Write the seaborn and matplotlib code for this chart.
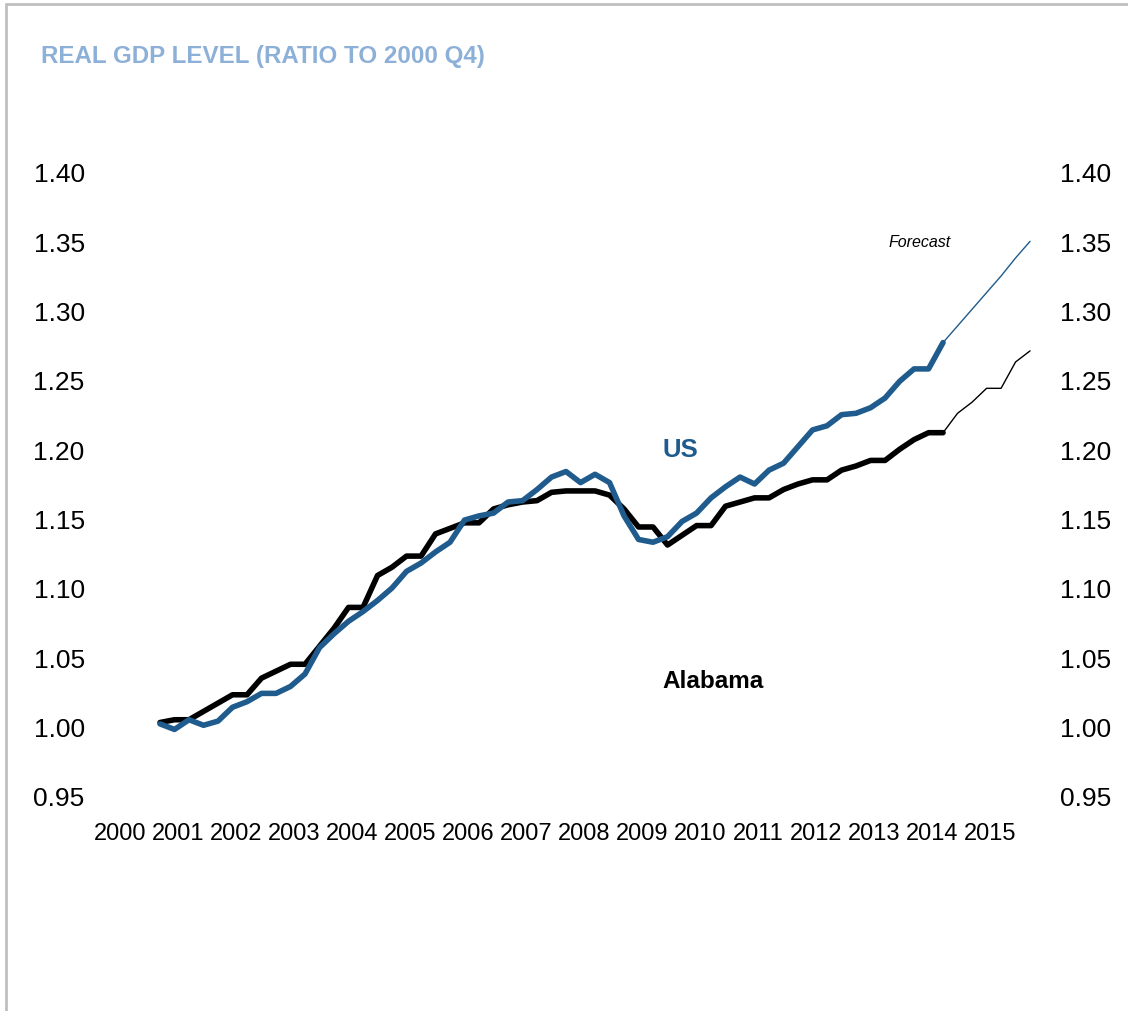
import numpy as np
import pandas as pd
import seaborn as sns
import matplotlib.pyplot as plt
from matplotlib.lines import Line2D

# quarterly real GDP, ratio to 2000 Q4 (actuals 2000Q4 - 2014Q2)
us_actual = [1.002, 0.998, 1.005, 1.001, 1.004, 1.014, 1.018, 1.024, 1.024, 1.029,
             1.038, 1.057, 1.067, 1.076, 1.083, 1.091, 1.100, 1.112, 1.118, 1.126,
             1.133, 1.149, 1.152, 1.154, 1.162, 1.163, 1.171, 1.180, 1.184, 1.176,
             1.182, 1.176, 1.152, 1.135, 1.133, 1.137, 1.148, 1.154, 1.165, 1.173,
             1.180, 1.175, 1.185, 1.190, 1.202, 1.214, 1.217, 1.225, 1.226, 1.230,
             1.237, 1.249, 1.258, 1.258, 1.277]
al_actual = [1.003, 1.005, 1.005, 1.011, 1.017, 1.023, 1.023, 1.035, 1.040, 1.045,
             1.045, 1.058, 1.071, 1.086, 1.086, 1.109, 1.115, 1.123, 1.123, 1.139,
             1.143, 1.147, 1.147, 1.157, 1.160, 1.162, 1.163, 1.169, 1.170, 1.170,
             1.170, 1.167, 1.157, 1.144, 1.144, 1.131, 1.138, 1.145, 1.145, 1.159,
             1.162, 1.165, 1.165, 1.171, 1.175, 1.178, 1.178, 1.185, 1.188, 1.192,
             1.192, 1.200, 1.207, 1.212, 1.212]
# forecast 2014Q3 - 2015Q4
us_forecast = [1.289, 1.301, 1.313, 1.325, 1.338, 1.350]
al_forecast = [1.226, 1.234, 1.244, 1.244, 1.263, 1.271]

years = list(range(2000, 2016))
yticks = [0.95, 1.00, 1.05, 1.10, 1.15, 1.20, 1.25, 1.30, 1.35, 1.40]

US_BLUE = '#1f5b8c'
TITLE_BLUE = '#8db0d9'
SANS = ['Liberation Sans', 'DejaVu Sans']

def qnum(periods):
    return periods.year + (periods.quarter - 1) / 4.0

act_q = pd.period_range('2000Q4', periods=len(us_actual), freq='Q')
fc_q = pd.period_range(act_q[-1], periods=len(us_forecast) + 1, freq='Q')

act = pd.DataFrame({'t': qnum(act_q), 'US': us_actual, 'Alabama': al_actual})
fc = pd.DataFrame({'t': qnum(fc_q),
                   'US': [us_actual[-1]] + us_forecast,
                   'Alabama': [al_actual[-1]] + al_forecast})

sns.set_style('white')
plt.rcParams['font.family'] = SANS

fig = plt.figure(figsize=(11.28, 10.12), dpi=100)
ax = fig.add_axes([100 / 1128, 1 - 797 / 1012, 945 / 1128, 624 / 1012])

sns.lineplot(data=act, x='t', y='Alabama', ax=ax, color='black', lw=4,
             solid_joinstyle='round')
sns.lineplot(data=act, x='t', y='US', ax=ax, color=US_BLUE, lw=4,
             solid_joinstyle='round')
sns.lineplot(data=fc, x='t', y='Alabama', ax=ax, color='black', lw=1.0)
sns.lineplot(data=fc, x='t', y='US', ax=ax, color=US_BLUE, lw=1.0)

ax.set_xlim(2000 - 1.138 / 4, 2000 + 64.03 / 4)
ax.set_ylim(0.95, 1.40)
ax.set_yticks(yticks)
ax.set_yticklabels([f'{v:.2f}' for v in yticks])
ax.set_xticks([y + 0.06 for y in years])
ax.set_xticklabels([str(y) for y in years])
ax.set_xlabel('')
ax.set_ylabel('')
ax.tick_params(axis='y', labelsize=19, labelright=True, left=False, right=False,
               pad=7.5, labelcolor='black')
ax.tick_params(axis='x', labelsize=17, bottom=False, pad=15, labelcolor='black')
sns.despine(ax=ax, left=True, bottom=True)
ax.grid(False)

ax.text(2013.85, 1.350, 'Forecast', fontsize=11.5, style='italic', ha='center',
        va='center', color='black')
ax.text(2009.72, 1.200, 'US', fontsize=18.5, fontweight='bold', color=US_BLUE,
        ha='center', va='center')
ax.text(2010.28, 1.033, 'Alabama', fontsize=17.5, fontweight='bold', color='black',
        ha='center', va='center')

fig.text(41 / 1128, 1 - 57 / 1012, 'REAL GDP LEVEL (RATIO TO 2000 Q4)', fontsize=17.4,
         fontweight='bold', color=TITLE_BLUE, ha='left', va='center')

# outer frame (left and top edges)
fig.add_artist(Line2D([6 / 1128, 6 / 1128], [0, 1 - 5 / 1012], transform=fig.transFigure,
                      color='#c0c0c0', lw=2))
fig.add_artist(Line2D([6 / 1128, 1], [1 - 5 / 1012, 1 - 5 / 1012], transform=fig.transFigure,
                      color='#c0c0c0', lw=2))

fig.savefig('out.png', dpi=100)
